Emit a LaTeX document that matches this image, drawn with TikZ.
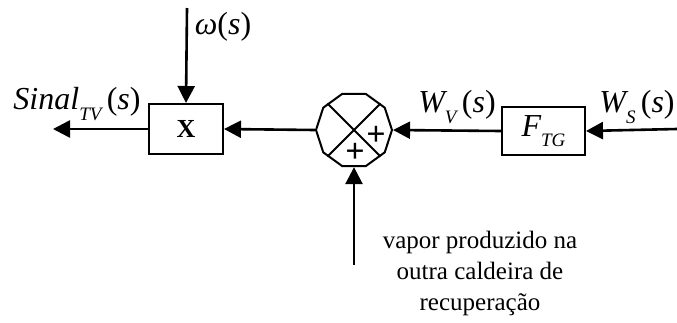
\documentclass[tikz,border=0pt]{standalone}
\usepackage{fontspec}
\setmainfont{Liberation Serif}
\usetikzlibrary{arrows.meta,shapes.geometric}
\newcommand{\subx}[1]{\raisebox{-0.32em}{\fontsize{19}{19}\selectfont\itshape #1}}
\begin{document}
\begin{tikzpicture}[x=1pt,y=-1pt,
  blk/.style={draw,line width=2pt,inner sep=0pt},
  sumnode/.style={draw,line width=2pt,regular polygon,regular polygon sides=10,minimum size=76pt,inner sep=0pt},
  arr/.style={line width=2.6pt,-{Triangle[length=17pt,width=17pt]}},
  lbl/.style={font=\fontsize{32}{38}\selectfont,inner sep=0pt},
  txt/.style={font=\fontsize{25}{31}\selectfont,align=center,inner sep=0pt},
  plus/.style={font=\fontsize{34}{34}\selectfont\bfseries,inner sep=0pt}]
\useasboundingbox (0,0) rectangle (677,322);
\node[blk,minimum width=74pt,minimum height=50pt] (mul) at (186,129) {\fontsize{26}{26}\selectfont\bfseries X};
\node[sumnode] (sum) at (354,130) {};
\node[blk,minimum width=83pt,minimum height=48pt] (ftg) at (543.5,131) {\fontsize{32}{38}\selectfont\itshape F\subx{TG}};
\coordinate (om) at (187,8);
\coordinate (out) at (53,129);
\coordinate (ws) at (677,129);
\coordinate (vp) at (354,265);
\draw[line width=2pt] (sum.135) -- (sum.-45);
\draw[line width=2pt] (sum.45) -- (sum.-135);
\node[plus] (p1) at (376,136) {+};
\node[plus] (p2) at (355,153) {+};
\draw[arr] (om) -- (mul.north);
\draw[arr] (mul.west) -- (out);
\draw[arr] (sum.west) -- (mul.east);
\draw[arr] (ftg.west) -- (sum.east);
\draw[arr] (ws) -- (ftg.east);
\draw[arr] (vp) -- (sum.south);
\node[lbl] (lom) at (223,27) {\itshape ω\upshape(\itshape s\upshape)};
\node[lbl] (lsin) at (77,104) {\itshape Sinal\subx{TV}\,\upshape(\itshape s\upshape)};
\node[lbl] (lwv) at (457,107) {\itshape W\subx{V}\,\upshape(\itshape s\upshape)};
\node[lbl] (lws) at (637,107) {\itshape W\subx{S}\,\upshape(\itshape s\upshape)};
\node[txt] (vap) at (480,273) {vapor produzido na\\outra caldeira de\\recuperação};
\end{tikzpicture}
\end{document}
